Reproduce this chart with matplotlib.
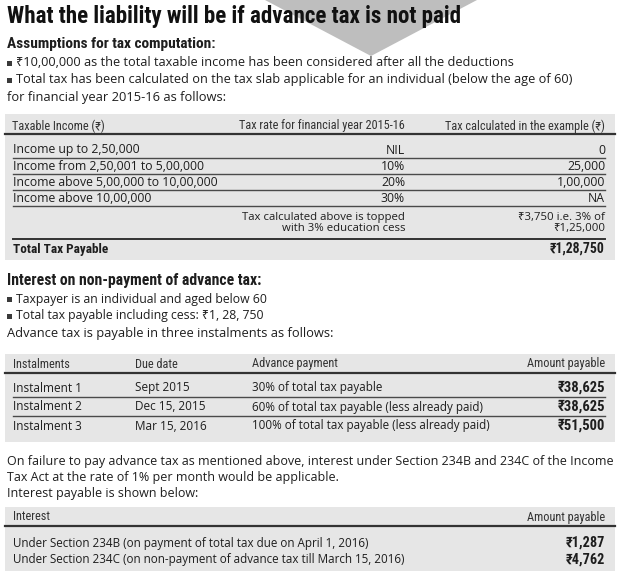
import matplotlib
matplotlib.use("Agg")
import matplotlib.pyplot as plt
from matplotlib import font_manager
from matplotlib.patches import Rectangle, Polygon

# ---- data ----
title = "What the liability will be if advance tax is not paid"
head1 = "Assumptions for tax computation:"
bullets1 = ["₹10,00,000 as the total taxable income has been considered after all the deductions",
            "Total tax has been calculated on the tax slab applicable for an individual (below the age of 60)"]
cont1 = "for financial year 2015-16 as follows:"

slab_header = ["Taxable Income (₹)", "Tax rate for financial year 2015-16", "Tax calculated in the example (₹)"]
slab_income = ["Income up to 2,50,000", "Income from 2,50,001 to 5,00,000",
               "Income above 5,00,000 to 10,00,000", "Income above 10,00,000"]
slab_rate = ["NIL", "10%", "20%", "30%"]
slab_tax = ["0", "25,000", "1,00,000", "NA"]
cess_text = "Tax calculated above is topped\nwith 3% education cess"
cess_value = "₹3,750 i.e. 3% of\n₹1,25,000"
total_label = "Total Tax Payable"
total_value = "₹1,28,750"

head2 = "Interest on non-payment of advance tax:"
bullets2 = ["Taxpayer is an individual and aged below 60",
            "Total tax payable including cess: ₹1, 28, 750"]
cont2 = "Advance tax is payable in three instalments as follows:"

inst_header = ["Instalments", "Due date", "Advance payment", "Amount payable"]
inst_names = ["Instalment 1", "Instalment 2", "Instalment 3"]
inst_dates = ["Sept 2015", "Dec 15, 2015", "Mar 15, 2016"]
inst_pay = ["30% of total tax payable", "60% of total tax payable (less already paid)",
            "100% of total tax payable (less already paid)"]
inst_amount = ["₹38,625", "₹38,625", "₹51,500"]

para = ["On failure to pay advance tax as mentioned above, interest under Section 234B and 234C of the Income",
        "Tax Act at the rate of 1% per month would be applicable.",
        "Interest payable is shown below:"]

int_header = ["Interest", "Amount payable"]
int_names = ["Under Section 234B (on payment of total tax due on April 1, 2016)",
             "Under Section 234C (on non-payment of advance tax till March 15, 2016)"]
int_amount = ["₹1,287", "₹4,762"]


def pick(cands):
    for c in cands:
        try:
            font_manager.findfont(font_manager.FontProperties(family=c), fallback_to_default=False)
            return c
        except Exception:
            pass
    return "DejaVu Sans"

cond = pick(["Roboto Condensed", "Open Sans Condensed", "Liberation Sans Narrow", "Lato"])
body = pick(["Open Sans", "Noto Sans", "Lato"])
COND = [cond, "Noto Sans", "DejaVu Sans"]
BODYF = [body, "Noto Sans", "DejaVu Sans"]
plt.rcParams["font.family"] = BODYF

INK = "#1e1e1e"
BOX = "#e6e6e6"
PT = 0.72  # px -> pt at dpi 100
HEAD = 12.2

fig = plt.figure(figsize=(6.2, 5.76), dpi=100)
ax = fig.add_axes([0, 0, 1, 1])
ax.set_xlim(0, 620)
ax.set_ylim(576, 0)
ax.axis("off")


def txt(x, y, s, size=12, ha="left", bold=False, color=INK, fam=None, **kw):
    if fam is None:
        fam = COND if bold else BODYF
    ax.text(x, y, s, fontsize=size * PT, ha=ha, va="center", color=color,
            fontweight="bold" if bold else "normal", family=fam, **kw)


def bullet(x, y, s, size):
    ax.add_patch(Rectangle((x, y - 2.5), 5, 5, color="#3a3a3a", lw=0))
    txt(x + 9, y, s, size)


# arrow shape behind title
ax.add_patch(Polygon([[265, 0], [477, 0], [371, 56]], closed=True, color="#bebebe", lw=0, zorder=0))

txt(7, 16, title, size=23, bold=True, color="#111111")
txt(7, 44, head1, size=15.4, bold=True)
y = 63
for b in bullets1:
    bullet(7, y, b, size=12.8)
    y += 17
txt(7, y, cont1, size=12.9)

# --- table 1 ---
L, R = 5, 615
ax.add_patch(Rectangle((L, 114), R - L, 260 - 114, color=BOX, lw=0, zorder=0))
txt(12, 126, slab_header[0], size=HEAD, color="#333333", fam=COND)
txt(405, 126, slab_header[1], size=HEAD, ha="right", color="#333333", fam=COND)
txt(605, 126, slab_header[2], size=HEAD, ha="right", color="#333333", fam=COND)
ax.plot([L, R], [134, 134], color="#333333", lw=1.6)
y0, dy = 150, 16
for i in range(len(slab_income)):
    yy = y0 + i * dy
    txt(13, yy, slab_income[i], size=12.2)
    txt(405, yy, slab_rate[i], ha="right", size=12.2)
    txt(605, yy, slab_tax[i], ha="right", size=12.2)
    ax.plot([13, 605], [yy + 8, yy + 8], color="#4a4a4a", lw=1.0)
ycess = y0 + len(slab_income) * dy + 9
txt(405, ycess, cess_text, ha="right", size=11.4, linespacing=1.1)
txt(605, ycess, cess_value, ha="right", size=11.4, linespacing=1.1)
ax.plot([13, 605], [239, 239], color="#333333", lw=1.4)
txt(13, 249, total_label, bold=True, size=13.2)
txt(605, 249, total_value, ha="right", bold=True, size=13.8)

# --- section 2 ---
txt(7, 281, head2, size=15.8, bold=True)
y = 299
for b in bullets2:
    bullet(7, y, b, size=12.2)
    y += 17
txt(7, y, cont2, size=12.9)

# --- table 2 ---
ax.add_patch(Rectangle((L, 354), R - L, 442 - 354, color=BOX, lw=0, zorder=0))
hx = [13, 135, 252]
for x, h in zip(hx, inst_header[:3]):
    txt(x, 364, h, size=HEAD, color="#333333", fam=COND)
txt(605, 364, inst_header[3], size=HEAD, ha="right", color="#333333", fam=COND)
ax.plot([L, R], [373, 373], color="#333333", lw=1.6)
y0, dy = 388, 19
for i in range(len(inst_names)):
    yy = y0 + i * dy
    txt(13, yy, inst_names[i], size=11.8)
    txt(135, yy, inst_dates[i], size=11.8)
    txt(252, yy, inst_pay[i], size=11.6)
    txt(605, yy, inst_amount[i], ha="right", bold=True, size=14.6)
    if i < len(inst_names) - 1:
        ax.plot([13, 605], [yy + 9, yy + 9], color="#4a4a4a", lw=1.0)

# --- paragraph ---
y = 462
for p in para:
    txt(7, y, p, size=12.5)
    y += 16

# --- table 3 ---
ax.add_patch(Rectangle((L, 507), R - L, 571 - 507, color=BOX, lw=0, zorder=0))
txt(13, 517, int_header[0], size=HEAD, color="#333333", fam=COND)
txt(605, 517, int_header[1], size=HEAD, ha="right", color="#333333", fam=COND)
ax.plot([L, R], [526, 526], color="#333333", lw=1.6)
y0, dy = 543, 17
for i in range(len(int_names)):
    yy = y0 + i * dy
    txt(13, yy, int_names[i], size=11.6)
    txt(605, yy, int_amount[i], ha="right", bold=True, size=14.2)

fig.savefig("out.png", dpi=100)
